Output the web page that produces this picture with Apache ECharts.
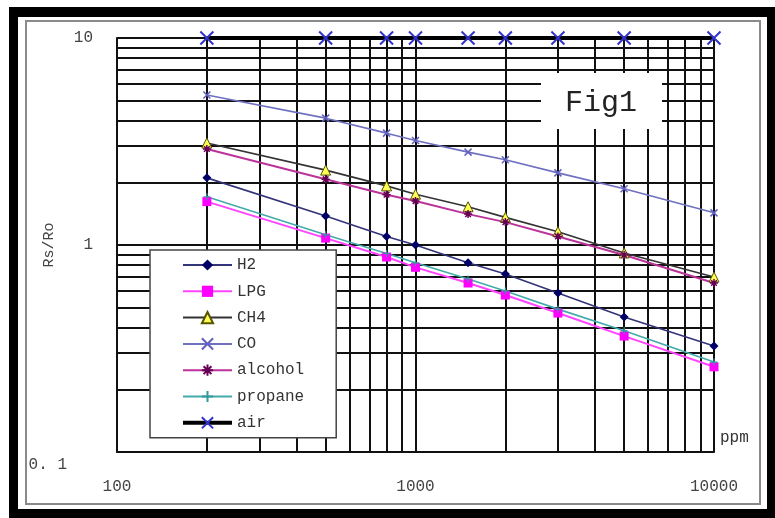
<!DOCTYPE html>
<html>
<head>
<meta charset="utf-8">
<script src="https://cdn.jsdelivr.net/npm/echarts@6/dist/echarts.min.js"></script>
<style>html,body{margin:0;padding:0;background:#fff}#c{width:775px;height:518px}</style>
</head>
<body>
<div id="c"></div>
<script>
// ---- data ----
var ppm = [200, 500, 800, 1000, 1500, 2000, 3000, 5000, 10000];
var H2 = [2.11, 1.38, 1.10, 1.00, 0.82, 0.725, 0.586, 0.449, 0.325];
var LPG = [1.62, 1.08, 0.875, 0.78, 0.655, 0.573, 0.469, 0.363, 0.258];
var CH4 = [3.11, 2.30, 1.93, 1.76, 1.53, 1.36, 1.16, 0.915, 0.70];
var CO = [5.3, 4.1, 3.47, 3.2, 2.81, 2.58, 2.23, 1.87, 1.43];
var alcohol = [2.91, 2.08, 1.75, 1.63, 1.41, 1.29, 1.10, 0.895, 0.655];
var propane = [1.71, 1.12, 0.91, 0.82, 0.685, 0.60, 0.49, 0.385, 0.272];
var air = [10, 10, 10, 10, 10, 10, 10, 10, 10];
var seriesNames = ['H2', 'LPG', 'CH4', 'CO', 'alcohol', 'propane', 'air'];
var yName = 'Rs/Ro';
var xName = 'ppm';
var figTitle = 'Fig1';

function pairs(ys) { return ppm.map(function (x, i) { return [x, ys[i]]; }); }

var FONT = 'Liberation Mono';
var X_PATH = 'path://M0,0L10,10M10,0L0,10';
var STAR_PATH = 'path://M5,0L5,10M0,5L10,5M1.5,1.5L8.5,8.5M8.5,1.5L1.5,8.5';
var PLUS_PATH = 'path://M5,0L5,10M0,5L10,5';

function mk(name, data, lineColor, lw, symbol, size, itemStyle) {
  return {
    name: name, type: 'line', data: pairs(data),
    symbol: symbol, symbolSize: size, showSymbol: true,
    lineStyle: { color: lineColor, width: lw },
    itemStyle: itemStyle,
    emphasis: { disabled: true },
    animation: false
  };
}

var legendData = seriesNames.map(function (n) {
  if (n === 'air') return { name: n, lineStyle: { color: '#000', width: 4 } };
  return { name: n };
});

var chart = echarts.init(document.getElementById('c'), null, { renderer: 'canvas' });
chart.setOption({
  backgroundColor: '#fff',
  animation: false,
  graphic: [
    { type: 'rect', z: -20, silent: true, shape: { x: 9, y: 7, width: 766, height: 511 }, style: { fill: '#000' } },
    { type: 'rect', z: -19, silent: true, shape: { x: 18, y: 17, width: 749, height: 492 }, style: { fill: '#fff' } },
    { type: 'rect', z: -18, silent: true, shape: { x: 26, y: 21, width: 734, height: 483 }, style: { fill: 'none', stroke: '#8a8a8a', lineWidth: 2 } },
    { type: 'rect', z: 1, silent: true, shape: { x: 541, y: 73, width: 121, height: 56 }, style: { fill: '#fff' } },
    { type: 'text', z: 3, silent: true, left: 565, top: 88, style: { text: figTitle, font: '30px "Liberation Mono"', fill: '#222' } }
  ],
  grid: { left: 117, right: 61, top: 38, bottom: 66, containLabel: false, outerBoundsMode: 'none' },
  legend: {
    data: legendData,
    orient: 'vertical',
    left: 150, top: 250,
    padding: [7, 32, 7, 31],
    itemWidth: 49, itemHeight: 14, itemGap: 10.3,
    backgroundColor: '#fff',
    borderColor: '#444', borderWidth: 1.5,
    textStyle: { fontFamily: FONT, fontSize: 16, color: '#333' },
    selectedMode: false
  },
  xAxis: {
    type: 'log', logBase: 10, min: 100, max: 10000,
    name: xName, nameLocation: 'end', nameGap: 6,
    nameTextStyle: { fontFamily: FONT, fontSize: 16, color: '#333', align: 'left', verticalAlign: 'bottom', padding: [0, 0, 6, 0] },
    axisLine: { show: true, lineStyle: { color: '#111', width: 2 } },
    axisTick: { show: false },
    axisLabel: { fontFamily: FONT, fontSize: 16, color: '#444', margin: 27, formatter: function (v) { return String(Math.round(v)); } },
    splitLine: { show: true, lineStyle: { color: '#111', width: 2 } },
    minorTick: { show: false, splitNumber: 9 },
    minorSplitLine: { show: true, lineStyle: { color: '#111', width: 2 } }
  },
  yAxis: {
    type: 'log', logBase: 10, min: 0.1, max: 10,
    name: yName, nameLocation: 'middle', nameGap: 60, nameMoveOverlap: false,
    nameTextStyle: { fontFamily: FONT, fontSize: 15, color: '#444' },
    axisLine: { show: true, lineStyle: { color: '#111', width: 2 } },
    axisTick: { show: false },
    axisLabel: {
      fontFamily: FONT, fontSize: 16, color: '#444', margin: 24,
      formatter: function (v) { return v < 0.5 ? '{a|0. 1}' : String(Math.round(v)); },
      rich: { a: { fontFamily: FONT, fontSize: 16, color: '#444', padding: [26, 26, 0, 0] } }
    },
    splitLine: { show: true, lineStyle: { color: '#111', width: 2 } },
    minorTick: { show: false, splitNumber: 9 },
    minorSplitLine: { show: true, lineStyle: { color: '#111', width: 2 } }
  },
  series: [
    mk('H2', H2, '#33337a', 1.6, 'diamond', 9, { color: '#000066' }),
    mk('LPG', LPG, '#ff44ff', 2, 'rect', 9, { color: '#ff00ff' }),
    mk('CH4', CH4, '#333333', 1.6, 'triangle', 10, { color: '#ffff55', borderColor: '#555500', borderWidth: 1 }),
    mk('CO', CO, '#7070c0', 1.6, X_PATH, 7, { color: '#6060c0', borderColor: '#6060c0', borderWidth: 1.5 }),
    mk('alcohol', alcohol, '#bb3399', 2, STAR_PATH, 8, { color: '#660055', borderColor: '#660055', borderWidth: 1.5 }),
    mk('propane', propane, '#44aaaa', 1.6, PLUS_PATH, 7, { color: '#339999', borderColor: '#339999', borderWidth: 1.2 }),
    mk('air', air, '#000000', 4, X_PATH, 13, { color: '#3333cc', borderColor: '#3333cc', borderWidth: 2 })
  ]
});
</script>
</body>
</html>
